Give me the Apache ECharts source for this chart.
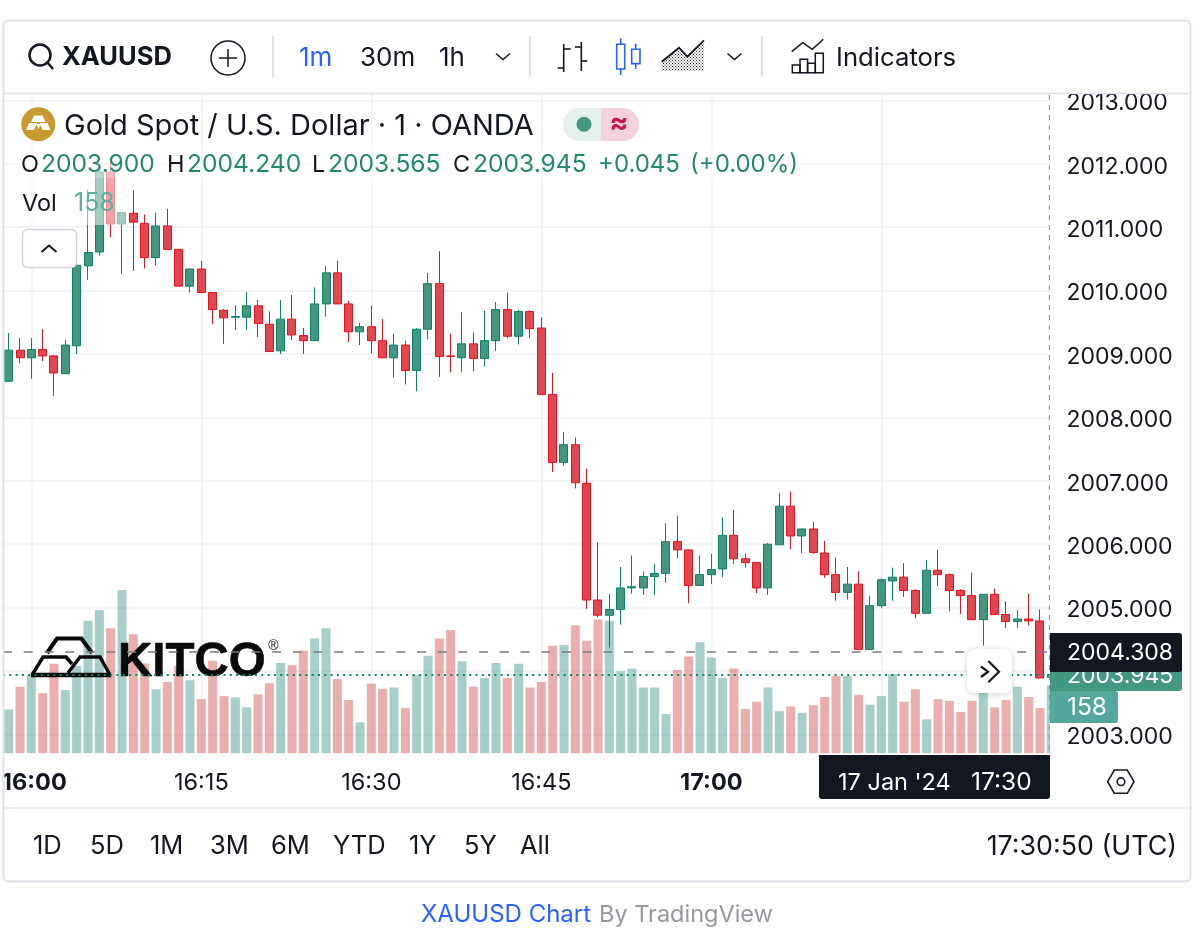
<!DOCTYPE html>
<html>
<head>
<meta charset="utf-8">
<title>XAUUSD 1m</title>
<style>html,body{margin:0;padding:0;background:#fff}#chart{width:1200px;height:943px}</style>
<script src="https://cdn.jsdelivr.net/npm/echarts@6/dist/echarts.min.js"></script>
</head>
<body>
<div id="chart"></div>
<script>
// One-minute XAUUSD session, 15:58 to 17:30 UTC
const opens = [2008.57,2009.06,2008.94,2009.07,2008.97,2008.69,2009.13,2010.39,2010.61,2011.87,2011.05,2011.22,2011.06,2010.52,2011.02,2010.65,2010.07,2010.34,2009.97,2009.69,2009.58,2009.58,2009.76,2009.47,2009.05,2009.55,2009.29,2009.21,2009.79,2010.28,2009.79,2009.35,2009.43,2009.21,2008.94,2009.14,2008.74,2009.39,2010.11,2008.97,2008.94,2009.16,2008.93,2009.21,2009.70,2009.28,2009.67,2009.41,2008.36,2007.29,2007.57,2006.96,2005.12,2004.88,2004.97,2005.31,2005.31,2005.49,2005.54,2006.04,2005.91,2005.35,2005.52,2005.61,2006.14,2005.77,2005.71,2005.31,2005.99,2006.60,2006.13,2006.24,2005.86,2005.52,2005.24,2005.37,2004.34,2005.03,2005.42,2005.48,2005.27,2004.91,2005.59,2005.52,2005.27,2005.19,2004.81,2005.21,2004.89,2004.78,2004.82,2004.79,2003.90];
const closes = [2009.06,2008.94,2009.07,2008.97,2008.70,2009.14,2010.40,2010.60,2011.87,2011.05,2011.23,2011.08,2010.52,2011.02,2010.65,2010.07,2010.34,2009.97,2009.70,2009.57,2009.59,2009.76,2009.48,2009.04,2009.55,2009.30,2009.21,2009.79,2010.28,2009.79,2009.35,2009.43,2009.21,2008.94,2009.14,2008.74,2009.39,2010.11,2008.96,2008.96,2009.16,2008.93,2009.21,2009.70,2009.28,2009.67,2009.40,2008.36,2007.29,2007.57,2006.97,2005.12,2004.88,2004.97,2005.31,2005.33,2005.49,2005.54,2006.04,2005.91,2005.35,2005.52,2005.60,2006.14,2005.77,2005.71,2005.31,2006.00,2006.60,2006.13,2006.24,2005.87,2005.52,2005.24,2005.37,2004.34,2005.03,2005.44,2005.48,2005.27,2004.91,2005.59,2005.52,2005.27,2005.19,2004.81,2005.21,2004.89,2004.78,2004.82,2004.79,2003.89,2003.945];
const lows = [2008.57,2008.85,2008.61,2008.89,2008.34,2008.69,2009.00,2010.17,2010.55,2010.84,2010.26,2010.31,2010.35,2010.40,2010.65,2010.07,2009.97,2009.97,2009.47,2009.16,2009.38,2009.38,2009.27,2009.03,2009.00,2009.22,2009.00,2009.21,2009.59,2009.79,2009.19,2009.14,2009.01,2008.94,2008.63,2008.52,2008.41,2009.23,2008.64,2008.71,2008.72,2008.73,2008.80,2009.05,2009.25,2009.15,2009.25,2008.36,2007.14,2007.24,2006.88,2004.98,2004.85,2004.37,2004.73,2005.22,2005.20,2005.20,2005.39,2005.78,2005.07,2005.35,2005.37,2005.48,2005.69,2005.63,2005.23,2005.20,2005.99,2005.92,2005.86,2005.85,2005.47,2005.11,2005.13,2004.34,2004.34,2004.99,2005.11,2005.17,2004.83,2004.91,2005.34,2004.94,2004.90,2004.81,2004.40,2004.89,2004.68,2004.68,2004.72,2003.89,2003.565];
const highs = [2009.33,2009.25,2009.25,2009.39,2008.98,2009.22,2010.48,2011.59,2011.90,2012.06,2011.23,2011.58,2011.20,2011.23,2011.29,2010.65,2010.35,2010.47,2009.97,2009.71,2009.77,2009.98,2009.85,2009.67,2009.85,2009.93,2009.41,2010.05,2010.39,2010.47,2009.84,2009.49,2009.76,2009.55,2009.32,2009.21,2009.41,2010.28,2010.62,2009.32,2009.66,2009.34,2009.68,2009.82,2009.97,2009.70,2009.69,2009.58,2008.70,2007.77,2007.68,2007.19,2006.03,2005.22,2005.64,2005.82,2005.57,2005.69,2006.33,2006.45,2005.92,2005.82,2005.85,2006.42,2006.54,2005.85,2005.71,2006.02,2006.81,2006.83,2006.24,2006.35,2006.05,2005.79,2005.64,2005.57,2005.18,2005.46,2005.63,2005.70,2005.29,2005.75,2005.91,2005.54,2005.29,2005.55,2005.21,2005.30,2005.10,2004.96,2005.22,2004.97,2004.24];
const volumes = [102,155,182,140,208,147,203,308,333,291,380,277,209,149,166,203,170,126,215,133,130,107,137,163,210,205,239,267,291,173,124,72,162,150,153,105,182,227,267,287,214,155,175,210,175,208,153,166,250,252,298,262,311,308,191,197,153,153,91,194,225,258,223,175,197,103,120,153,98,109,94,112,131,180,180,136,113,133,184,120,149,79,126,122,96,122,150,107,124,155,131,105,158];

const timeTicks = ['16:00', '16:15', '16:30', '16:45', '17:00', '17:15'];
const priceTicks = { min: 2002, max: 2014, step: 1 };
const crosshairPrice = 2004.308;
const lastPrice = 2003.945;

// Minute labels for the time axis, starting at 15:58
const categories = opens.map((_, i) => {
  const total = 15 * 60 + 58 + i;
  return String(Math.floor(total / 60)).padStart(2, '0') + ':' + String(total % 60).padStart(2, '0');
});

const FONT = 'Inter, "Noto Sans", sans-serif';
const INK = '#131722';
const GREEN_TXT = '#22886f';
const GRIDC = '#f0f2f6';

const candles = opens.map((o, i) => [o, closes[i], lows[i], highs[i]]);
const volumeBars = volumes.map((v, i) => ({
  value: v,
  itemStyle: { color: closes[i] >= opens[i] ? 'rgba(40,140,125,0.42)' : 'rgba(210,75,70,0.45)' }
}));

const onTick = (idx, val) => timeTicks.includes(val);
const quarterHour = (idx, val) => /:(00|15|30|45)$/.test(val);

// Small helpers for the chrome around the plot
function txt(text, x, y, size, fill, opt) {
  opt = opt || {};
  return { type: 'text', z: opt.z || 40, silent: true, style: {
    text, x, y: y + 1.5, fill, fontFamily: opt.family || FONT, fontSize: size, fontWeight: opt.weight || 400,
    align: opt.align || 'left', verticalAlign: 'middle', opacity: opt.opacity == null ? 1 : opt.opacity
  }};
}
function box(x, y, w, h, fill, opt) {
  opt = opt || {};
  return { type: 'rect', z: opt.z || 10, silent: true, shape: { x, y, width: w, height: h, r: opt.r || 0 },
    style: { fill, stroke: opt.stroke || null, lineWidth: opt.lw || 0, shadowBlur: opt.blur || 0, shadowColor: opt.shadow || 'transparent', shadowOffsetY: opt.blur ? 1 : 0 } };
}
function pline(points, stroke, lw, opt) {
  opt = opt || {};
  return { type: 'polyline', z: opt.z || 40, silent: true, shape: { points },
    style: { stroke, lineWidth: lw, fill: null, lineDash: opt.dash || null, lineJoin: opt.join || 'miter' } };
}
function gon(points, fill, opt) {
  opt = opt || {};
  return { type: 'polygon', z: opt.z || 40, silent: true, shape: { points },
    style: { fill, stroke: opt.stroke || null, lineWidth: opt.lw || 0, lineJoin: 'miter' } };
}
function ring(cx, cy, r, stroke, lw, fill, z) {
  return { type: 'circle', z: z || 40, silent: true, shape: { cx, cy, r }, style: { stroke, lineWidth: lw, fill: fill || null } };
}

// Dither used under the area-style chart icon
const dither = document.createElement('canvas');
dither.width = 3; dither.height = 3;
(function () {
  const c = dither.getContext('2d');
  c.fillStyle = '#222';
  c.fillRect(0, 0, 1, 1); c.fillRect(1.5, 1.5, 1, 1);
})();

const chrome = [
  // masks around the plot
  box(0, 0, 1200, 93, '#fff', { z: 10 }),
  box(1050, 93, 150, 720, '#fff', { z: 10 }),
  box(0, 753.5, 1200, 190, '#fff', { z: 10 }),
  box(0, 0, 3, 943, '#fff', { z: 10 }),

  // crosshair vertical at the last bar
  pline([[1049.5, 95], [1049.5, 753]], '#9a9da6', 1.3, { dash: [5, 5], z: 9 }),

  // soft backing behind the legend rows
  box(14, 150, 786, 28, 'rgba(255,255,255,0.62)', { z: 6 }),
  box(14, 178, 113, 47, 'rgba(255,255,255,0.5)', { z: 6 }),

  // frame and separators
  { type: 'rect', z: 45, silent: true, shape: { x: 3.5, y: 20.5, width: 1187, height: 861, r: 5 }, style: { fill: null, stroke: '#dfe2e8', lineWidth: 2 } },
  pline([[4, 93.5], [1190, 93.5]], '#dfe2e8', 1.5),
  pline([[4, 808], [1190, 808]], '#e4e6ec', 1.5),
  pline([[273, 36], [273, 77]], '#d6dbe6', 1.5),
  pline([[530, 36], [530, 77]], '#d6dbe6', 1.5),
  pline([[762, 36], [762, 77]], '#d6dbe6', 1.5),

  // symbol search
  ring(40, 55, 10.5, INK, 2.5),
  pline([[47.5, 62.5], [53, 69]], INK, 2.5),
  txt('XAUUSD', 62, 56, 25.5, INK, { weight: 700 }),
  ring(228, 58, 17, INK, 1.5),
  pline([[219, 58], [237, 58]], INK, 1.5),
  pline([[228, 49], [228, 67]], INK, 1.5),

  // intervals
  txt('1m', 299, 57, 26, '#2962ff'),
  txt('30m', 360, 57, 26, INK),
  txt('1h', 439, 57, 26, INK),
  pline([[496, 53.5], [503, 59.5], [510, 53.5]], INK, 1.5),

  // chart type icons
  pline([[563.7, 44], [563.7, 72]], INK, 1.6), pline([[563.7, 49], [570.7, 49]], INK, 1.6), pline([[557.7, 68], [563.7, 68]], INK, 1.6),
  pline([[581.3, 42], [581.3, 71]], INK, 1.6), pline([[575, 47], [581.3, 47]], INK, 1.6), pline([[581.3, 61], [587.3, 61]], INK, 1.6),
  pline([[620.7, 38.3], [620.7, 75]], '#2962ff', 1.6),
  { type: 'rect', z: 40, silent: true, shape: { x: 616.7, y: 44.3, width: 8, height: 24.7 }, style: { fill: '#fff', stroke: '#2962ff', lineWidth: 1.6 } },
  pline([[635.7, 43.7], [635.7, 69]], '#2962ff', 1.6),
  { type: 'rect', z: 40, silent: true, shape: { x: 631.7, y: 49.3, width: 8.3, height: 14.3 }, style: { fill: '#fff', stroke: '#2962ff', lineWidth: 1.6 } },
  gon([[661.7, 71], [661.7, 61.7], [679, 47.7], [687.3, 56.7], [704, 40.3], [704, 71]], { image: dither, repeat: 'repeat' }),
  pline([[661.7, 61.7], [679, 47.7], [687.3, 56.7], [704, 40.3]], INK, 1.8),
  pline([[727.5, 53.5], [734.5, 59.5], [741.5, 53.5]], INK, 1.5),

  // indicators
  pline([[791.7, 51.7], [802.7, 42.7], [812.3, 49.3], [823.3, 39.3]], INK, 1.5),
  { type: 'rect', z: 40, silent: true, shape: { x: 792.3, y: 65, width: 7.7, height: 7.7 }, style: { fill: null, stroke: INK, lineWidth: 1.5 } },
  { type: 'rect', z: 40, silent: true, shape: { x: 800, y: 59.3, width: 7.6, height: 13.4 }, style: { fill: null, stroke: INK, lineWidth: 1.5 } },
  { type: 'rect', z: 40, silent: true, shape: { x: 807.6, y: 63.3, width: 7.7, height: 9.4 }, style: { fill: null, stroke: INK, lineWidth: 1.5 } },
  { type: 'rect', z: 40, silent: true, shape: { x: 815.3, y: 53.3, width: 8, height: 19.4 }, style: { fill: null, stroke: INK, lineWidth: 1.5 } },
  txt('Indicators', 836, 57, 25.7, INK),

  // legend title
  ring(38.3, 124.3, 17, '#c9992f', 0, '#c9992f'),
  gon([[34, 115.5], [42.5, 115.5], [45.5, 122], [31, 122]], '#fff'),
  gon([[29, 123], [37, 123], [34, 130], [26, 130]], '#fff'),
  gon([[39.5, 123], [47.5, 123], [50.5, 130], [42.5, 130]], '#fff'),
  gon([[36, 124], [41, 124], [38.5, 129]], '#fff'),
  txt('Gold Spot / U.S. Dollar · 1 · OANDA', 64, 124.5, 29, INK),

  // market-status pill
  box(563, 108, 76, 33, '#e3f0ec', { z: 40, r: 16.5 }),
  box(601, 108, 38, 33, '#f4d1dc', { z: 40, r: [0, 16.5, 16.5, 0] }),
  ring(584, 124.3, 7.5, '#439881', 0, '#439881'),
  txt('≈', 619, 122, 28, '#c6164f', { align: 'center', weight: 700 }),

  // OHLC row
  txt('O', 21, 163, 23.5, INK),
  txt('2003.900', 41, 163, 24.6, GREEN_TXT),
  txt('H', 167, 163, 23.5, INK),
  txt('2004.240', 187, 163, 24.6, GREEN_TXT),
  txt('L', 312, 163, 23.5, INK),
  txt('2003.565', 328, 163, 24.6, GREEN_TXT),
  txt('C', 453, 163, 23.5, INK),
  txt('2003.945', 473, 163, 24.6, GREEN_TXT),
  txt('+0.045', 598, 163, 24, GREEN_TXT),
  txt('(+0.00%)', 690, 163, 24, GREEN_TXT),
  txt('Vol', 22, 202, 23.5, INK),
  txt('158', 74, 202, 25, '#5fae9f'),

  // collapse button
  { type: 'rect', z: 40, silent: true, shape: { x: 22.5, y: 229.5, width: 54, height: 38, r: 5 }, style: { fill: '#fff', stroke: '#d1d4dc', lineWidth: 1.5 } },
  pline([[41.5, 252], [49, 245.5], [56.5, 252]], INK, 2),

  // logo, underneath the price lines
  pline([[47, 653], [57, 638.5], [81.5, 638.5], [92, 653]], '#0a0a0a', 4, { z: 3 }),
  pline([[32, 675], [43, 657], [66, 657], [72, 664]], '#0a0a0a', 3.5, { z: 3 }),
  pline([[68, 673], [80, 657], [100, 657], [110, 675]], '#0a0a0a', 3.5, { z: 3 }),
  pline([[31, 675], [111, 675]], '#0a0a0a', 4.5, { z: 3 }),
  { type: 'text', z: 3, silent: true, style: { text: 'KITCO', x: 118, y: 663, fill: '#0a0a0a', fontFamily: '"Liberation Sans", sans-serif', fontWeight: 700, fontSize: 47.5, align: 'left', verticalAlign: 'middle', stroke: '#0a0a0a', lineWidth: 0.6 } },
  { type: 'text', z: 3, silent: true, style: { text: '®', x: 273.5, y: 646, fill: '#0a0a0a', fontFamily: '"Liberation Sans", sans-serif', fontSize: 14, align: 'center', verticalAlign: 'middle' } },

  // price scale tags
  box(1050, 660, 132, 31, '#439881', { z: 30, r: [0, 3, 3, 0] }),
  txt('2003.945', 1067, 675, 23, '#fff', { z: 31 }),
  box(1050, 633, 132, 39, '#131722', { z: 32, r: [0, 3, 3, 0] }),
  txt('2004.308', 1067, 651.5, 23, '#fff', { z: 33 }),
  box(1050, 691, 68, 32, '#53a89b', { z: 30, r: [0, 3, 3, 0] }),
  txt('158', 1067, 706, 24.5, '#fff', { z: 31 }),

  // jump-to-latest button
  box(967, 649, 45, 44, '#fff', { z: 35, r: 7, blur: 6, shadow: 'rgba(0,0,0,0.18)' }),
  pline([[981, 666.5], [988, 671.7], [981, 677]], INK, 2.2),
  pline([[988.3, 661], [999, 671.7], [988.3, 682.3]], INK, 2.2),

  // crosshair time tag
  box(819, 755, 231, 44, '#131722', { z: 30, r: [0, 0, 3, 3] }),
  txt("17 Jan '24", 838, 781, 23.5, '#fff', { z: 31 }),
  txt('17:30', 971, 781, 24.5, '#fff', { z: 31 }),

  // scale settings
  gon([[1107.7, 781.7], [1114.3, 770], [1127.3, 770], [1134, 781.7], [1127.3, 793.3], [1114.3, 793.3]], 'transparent', { stroke: INK, lw: 1.6 }),
  ring(1121, 781.7, 3.8, INK, 1.6),

  // range bar
  txt('1D', 33, 845, 25.5, INK), txt('5D', 90, 845, 25.5, INK), txt('1M', 150, 845, 25.5, INK),
  txt('3M', 210, 845, 25.5, INK), txt('6M', 271, 845, 25.5, INK), txt('YTD', 333, 845, 25.5, INK),
  txt('1Y', 409, 845, 25.5, INK), txt('5Y', 464, 845, 25.5, INK), txt('All', 520, 845, 25.5, INK),
  txt('17:30:50 (UTC)', 1177, 845, 26.8, INK, { align: 'right' }),

  // attribution
  txt('XAUUSD Chart', 421, 913, 24, '#2962ff'),
  txt('By TradingView', 599, 913, 23.5, '#9598a1')
];

const chart = echarts.init(document.getElementById('chart'), null, { renderer: 'canvas' });
chart.setOption({
  animation: false,
  backgroundColor: '#fff',
  grid: [
    { left: 3, top: 37, width: 1054, height: 760.8, outerBoundsMode: 'none' },
    { left: 3, top: 581.3, width: 1054, height: 172, outerBoundsMode: 'none' },
    // carries only the price labels, nudged so the figures sit on their grid lines
    { left: 3, top: 39.8, width: 1054, height: 760.8, outerBoundsMode: 'none' }
  ],
  xAxis: [
    {
      type: 'category', gridIndex: 0, data: categories, boundaryGap: true,
      axisLine: { show: false }, axisTick: { show: false }, axisLabel: { show: false },
      splitLine: { show: true, interval: quarterHour, alignWithLabel: true, lineStyle: { color: GRIDC, width: 1.5 } }
    },
    {
      type: 'category', gridIndex: 1, data: categories, boundaryGap: true, z: 20,
      axisLine: { show: false }, axisTick: { show: false }, splitLine: { show: false },
      axisLabel: {
        show: true, interval: onTick, margin: 18, color: INK, fontFamily: FONT, fontSize: 23.5,
        formatter: v => v === '16:00' ? '{first|' + v + '}' : v.endsWith(':00') ? '{b|' + v + '}' : v,
        rich: {
          b: { fontFamily: FONT, fontSize: 23.5, fontWeight: 700, color: INK },
          first: { fontFamily: FONT, fontSize: 23.5, fontWeight: 700, color: INK, padding: [0, 0, 0, 6] }
        }
      }
    },
    { type: 'category', gridIndex: 2, data: categories, show: false }
  ],
  yAxis: [
    {
      type: 'value', gridIndex: 0, position: 'right', min: priceTicks.min, max: priceTicks.max, interval: priceTicks.step,
      axisLine: { show: false }, axisTick: { show: false }, axisLabel: { show: false },
      splitLine: { show: true, lineStyle: { color: GRIDC, width: 1.5 } }
    },
    { type: 'value', gridIndex: 1, min: 0, max: 400, show: false },
    {
      type: 'value', gridIndex: 2, position: 'right', min: priceTicks.min, max: priceTicks.max, interval: priceTicks.step, z: 20,
      axisLine: { show: false }, axisTick: { show: false }, splitLine: { show: false },
      axisLabel: {
        show: true, margin: 9.5, color: INK, fontFamily: FONT, fontSize: 23,
        showMinLabel: false, showMaxLabel: false,
        formatter: v => v.toFixed(3)
      }
    }
  ],
  series: [
    {
      type: 'bar', name: 'Vol', xAxisIndex: 1, yAxisIndex: 1, z: 2, barWidth: 9,
      data: volumeBars, silent: true
    },
    {
      type: 'candlestick', name: 'XAUUSD', xAxisIndex: 0, yAxisIndex: 0, z: 4, barWidth: 8.5,
      data: candles, silent: true,
      itemStyle: { color: '#43967f', color0: '#e0474f', borderColor: '#0b8265', borderColor0: '#e6101f', borderWidth: 1 },
      markLine: {
        silent: true, symbol: 'none', label: { show: false }, animation: false,
        data: [
          { yAxis: crosshairPrice, lineStyle: { color: '#787b86', width: 1.5, type: [9, 11.7] } },
          { yAxis: lastPrice, lineStyle: { color: '#0e8467', width: 2, type: [2, 4.3] } }
        ]
      }
    }
  ],
  graphic: { elements: chrome }
});
</script>
</body>
</html>
